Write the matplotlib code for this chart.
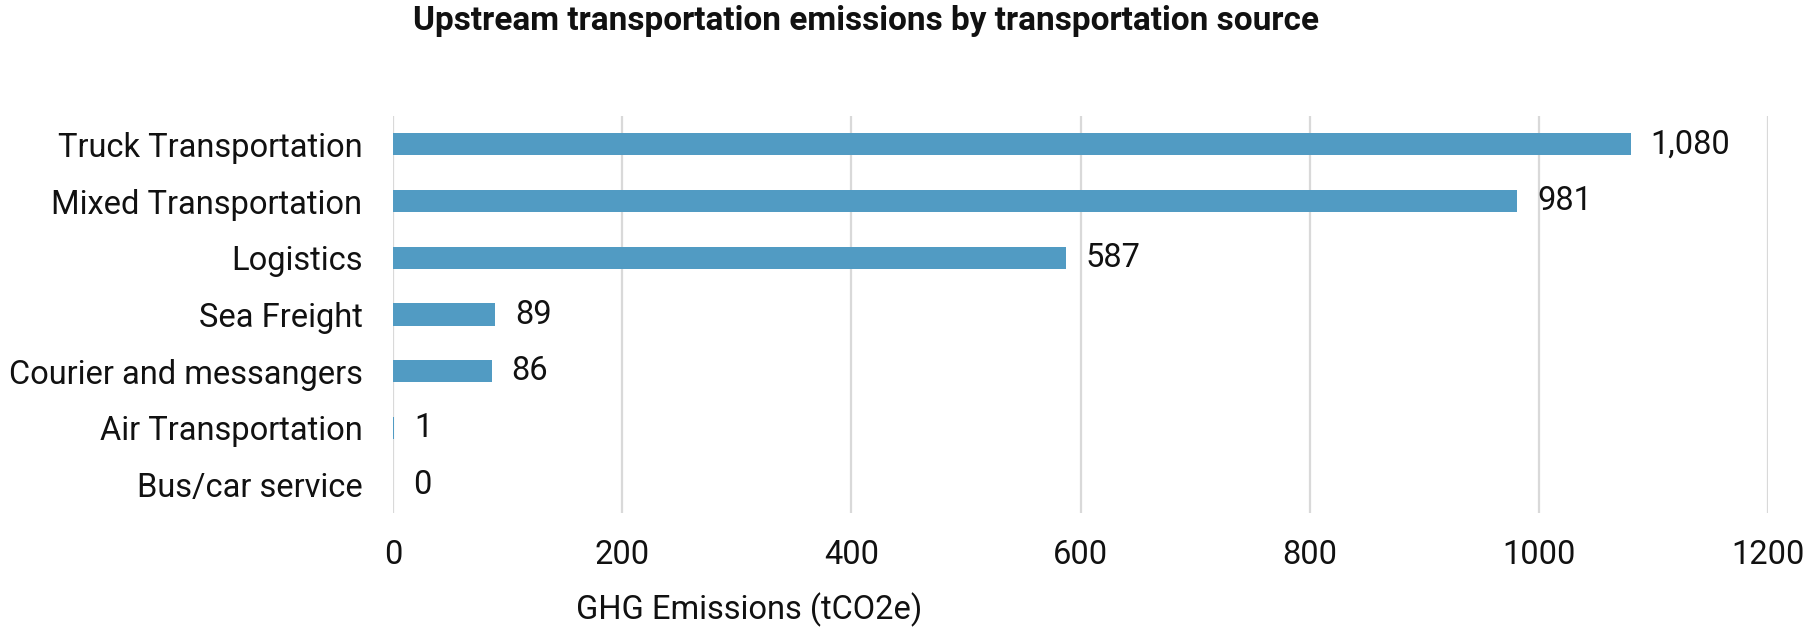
import numpy as np
import matplotlib
matplotlib.use("Agg")
import matplotlib.pyplot as plt

# categories are listed top to bottom
sources = ["Truck Transportation", "Mixed Transportation", "Logistics", "Sea Freight",
           "Courier and messangers", "Air Transportation", "Bus/car service"]
emissions = [1080, 981, 587, 89, 86, 1, 0]
x_ticks = [0, 200, 400, 600, 800, 1000, 1200]

plt.rcParams['font.family'] = ['Roboto', 'DejaVu Sans']

fig = plt.figure(figsize=(18.06, 6.28), dpi=100)
ax = fig.add_axes([393 / 1806, 1 - 513 / 628, 1375 / 1806, 397 / 628])

y = np.arange(len(sources))
ax.barh(y, emissions, height=0.39, color="#519bc3", zorder=3)

# value labels to the right of each bar
for yi, v in zip(y, emissions):
    ax.annotate(f"{v:,}", (v, yi), xytext=(20, 0), textcoords="offset pixels",
                ha="left", va="center", fontsize=23.5, color="#111111")

ax.set_ylim(len(sources) - 0.5, -0.5)
ax.set_xlim(0, 1200)
ax.set_xticks(x_ticks)
ax.set_xticklabels([str(t) for t in x_ticks])
ax.set_yticks(y)
ax.set_yticklabels(sources)

ax.grid(axis="x", color="#d9d9d9", linewidth=1.6, zorder=0)
for s in ax.spines.values():
    s.set_visible(False)
ax.tick_params(axis="both", length=0, labelsize=23.5, colors="#111111")
ax.tick_params(axis="y", pad=22)
ax.tick_params(axis="x", pad=19)

fig.text(749 / 1806, 1 - 610 / 628, "GHG Emissions (tCO2e)", ha="center", va="center",
         fontsize=23.5, color="#111111")
fig.text(866 / 1806, 1 - 21 / 628, "Upstream transportation emissions by transportation source",
         ha="center", va="center", fontsize=24, fontweight="bold", color="#111111")

fig.savefig("out.png", dpi=100)
